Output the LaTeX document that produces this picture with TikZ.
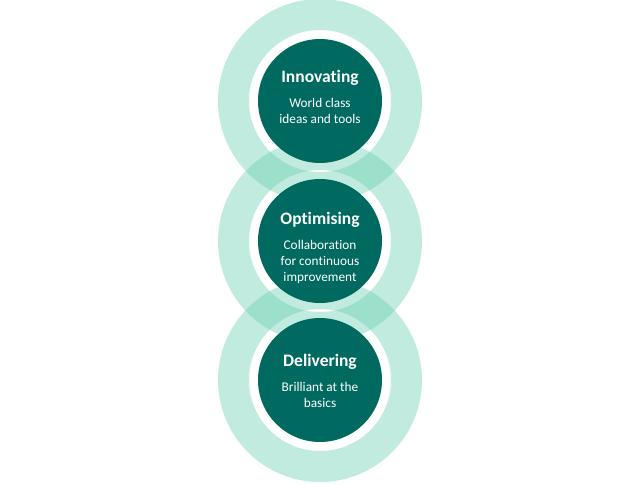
\documentclass[tikz,border=0pt]{standalone}
\usepackage{fontspec}
\setmainfont{Carlito}[Ligatures=NoCommon]
\usetikzlibrary{positioning}

\definecolor{darkteal}{RGB}{0,106,96}
\definecolor{mint}{RGB}{100,205,172}

\begin{document}
\begin{tikzpicture}[
    x=1pt, y=1pt,
    disc/.style={
        circle,
        fill=darkteal,
        minimum size=124pt,
        inner sep=0pt
    },
    band/.style={fill=mint, fill opacity=0.4, even odd rule},
    title/.style={text=white, inner sep=0pt,
        font=\fontsize{17.5}{21}\selectfont\bfseries},
    desc/.style={text=white, inner sep=0pt, align=center,
        font=\fontsize{13.3}{16}\selectfont}
]
\useasboundingbox (0,0) rectangle (640,483);

% ---------- Centres (top to bottom) ----------
\coordinate (c1) at (320,382);
\coordinate (c2) at (320,242);
\coordinate (c3) at (320,103);

% ---------- Light rings ----------
\foreach \c in {c1,c2,c3}
    \fill[band] (\c) circle (102pt) circle (71pt);

% ---------- Discs ----------
\node[disc] (innov) at (c1) {};
\node[disc] (optim) at (c2) {};
\node[disc] (deliv) at (c3) {};

% ---------- Texts ----------
\node[title, yshift=23pt] (innovT) at (innov) {Innovating};
\node[desc, below=12pt of innovT] (innovD) {World class\\ideas and tools};

\node[title, yshift=21pt] (optimT) at (optim) {Optimising};
\node[desc, below=12pt of optimT] (optimD) {Collaboration\\for continuous\\improvement};

\node[title, yshift=18pt] (delivT) at (deliv) {Delivering};
\node[desc, below=12pt of delivT] (delivD) {Brilliant at the\\basics};

\end{tikzpicture}
\end{document}
